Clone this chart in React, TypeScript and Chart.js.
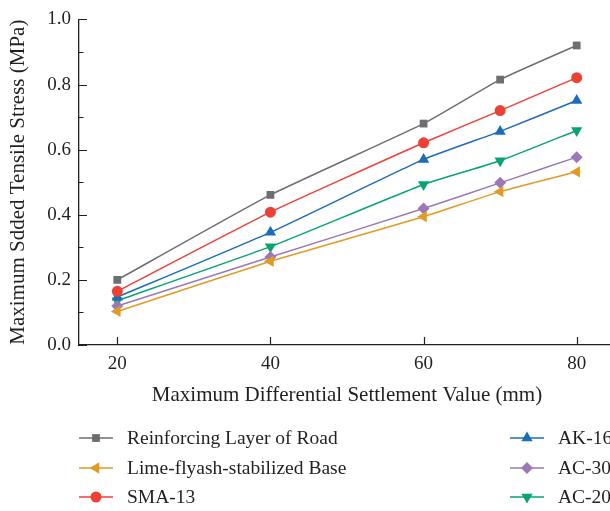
import React, { useEffect, useRef } from "react";
import { Chart, registerables } from "chart.js";
import { drawPoint } from "chart.js/helpers";

Chart.register(...registerables);

// Maximum differential settlement (mm)
const settlement = [20, 40, 60, 70, 80];

// Maximum added tensile stress (MPa) per structural layer
const reinforcingLayer = [0.2, 0.461, 0.68, 0.815, 0.92];
const limeFlyashBase = [0.103, 0.257, 0.394, 0.471, 0.532];
const sma13 = [0.165, 0.408, 0.621, 0.72, 0.821];
const ak16 = [0.147, 0.346, 0.57, 0.656, 0.751];
const ac30 = [0.12, 0.27, 0.419, 0.498, 0.577];
const ac20 = [0.136, 0.302, 0.493, 0.566, 0.659];

const seriesLabels = [
  "Reinforcing Layer of Road",
  "Lime-flyash-stabilized Base",
  "SMA-13",
  "AK-16",
  "AC-30",
  "AC-20",
];

const xTicks = [20, 40, 60, 80];
const yMajorTicks = [0, 0.2, 0.4, 0.6, 0.8, 1.0];
const yMinorTicks = [0.1, 0.3, 0.5, 0.7, 0.9];

const INK = "#231f20";
const FONT = "'Liberation Serif', 'DejaVu Serif', serif";

type Style = { color: string; pointStyle: string; rotation: number; radius: number };

const styles: Style[] = [
  { color: "#6d6e71", pointStyle: "rect", rotation: 0, radius: 5.5 },
  { color: "#e29a24", pointStyle: "triangle", rotation: -90, radius: 6.5 },
  { color: "#ee4136", pointStyle: "circle", rotation: 0, radius: 5.5 },
  { color: "#1c6cb8", pointStyle: "triangle", rotation: 0, radius: 6.5 },
  { color: "#9b79b6", pointStyle: "rectRot", rotation: 0, radius: 6 },
  { color: "#07a56c", pointStyle: "triangle", rotation: 180, radius: 6.5 },
];

const seriesValues = [reinforcingLayer, limeFlyashBase, sma13, ak16, ac30, ac20];

// Inward-facing tick marks on both axes
const innerTicks = {
  id: "innerTicks",
  afterDraw(chart: any) {
    const { ctx, chartArea, scales } = chart;
    const x = scales.x;
    const y = scales.y;
    ctx.save();
    ctx.strokeStyle = INK;
    ctx.lineWidth = 1.2;
    ctx.beginPath();
    for (const v of yMajorTicks) {
      const py = Math.round(y.getPixelForValue(v)) + 0.5;
      ctx.moveTo(chartArea.left, py);
      ctx.lineTo(chartArea.left + 8, py);
    }
    for (const v of yMinorTicks) {
      const py = Math.round(y.getPixelForValue(v)) + 0.5;
      ctx.moveTo(chartArea.left, py);
      ctx.lineTo(chartArea.left + 4.5, py);
    }
    for (const v of xTicks) {
      const px = Math.round(x.getPixelForValue(v)) + 0.5;
      ctx.moveTo(px, chartArea.bottom);
      ctx.lineTo(px, chartArea.bottom - 8);
    }
    ctx.stroke();
    ctx.restore();
  },
};

// Two-column legend below the x-axis title
const columnLegend = {
  id: "columnLegend",
  afterDraw(chart: any) {
    const { ctx, chartArea } = chart;
    const columnsX = [chartArea.left, chartArea.left + 431];
    const rowOffsets = [93, 123, 152];
    ctx.save();
    ctx.font = `19.5px ${FONT}`;
    ctx.textBaseline = "middle";
    ctx.textAlign = "left";
    chart.data.datasets.forEach((ds: any, i: number) => {
      const col = Math.floor(i / 3);
      const row = i % 3;
      const x0 = columnsX[col];
      const yy = chartArea.bottom + rowOffsets[row];
      ctx.strokeStyle = ds.borderColor;
      ctx.lineWidth = 1.5;
      ctx.beginPath();
      ctx.moveTo(x0, yy);
      ctx.lineTo(x0 + 34, yy);
      ctx.stroke();
      ctx.fillStyle = ds.pointBackgroundColor;
      ctx.strokeStyle = ds.pointBorderColor;
      drawPoint(
        ctx,
        {
          pointStyle: ds.pointStyle,
          rotation: ds.pointRotation,
          radius: ds.pointRadius,
          borderWidth: 0,
        },
        x0 + 17,
        yy
      );
      ctx.fillStyle = INK;
      ctx.fillText(ds.label, x0 + 48, yy + 1);
    });
    ctx.restore();
  },
};

export default function App() {
  const canvasRef = useRef<HTMLCanvasElement | null>(null);

  useEffect(() => {
    if (!canvasRef.current) return;
    const chart = new Chart(canvasRef.current, {
      type: "line",
      data: {
        datasets: seriesValues.map((vals, i) => ({
          label: seriesLabels[i],
          data: settlement.map((s, k) => ({ x: s, y: vals[k] })),
          borderColor: styles[i].color,
          backgroundColor: styles[i].color,
          pointBackgroundColor: styles[i].color,
          pointBorderColor: styles[i].color,
          pointBorderWidth: 0,
          pointStyle: styles[i].pointStyle as any,
          pointRotation: styles[i].rotation,
          pointRadius: styles[i].radius,
          borderWidth: 1.5,
          tension: 0.15,
          fill: false,
          clip: false as any,
        })),
      },
      options: {
        responsive: false,
        animation: false,
        layout: { padding: { top: 14, left: 0, right: 25, bottom: 96 } },
        plugins: {
          legend: { display: false },
          tooltip: { enabled: false },
        },
        scales: {
          x: {
            type: "linear",
            min: 15,
            max: 85,
            afterBuildTicks: (scale: any) => {
              scale.ticks = xTicks.map((v) => ({ value: v }));
            },
            afterFit: (scale: any) => {
              scale.height = 70;
            },
            grid: { display: false, drawTicks: false },
            border: { display: true, color: INK, width: 1.3 },
            ticks: {
              color: INK,
              padding: 8,
              font: { family: FONT, size: 19 },
              callback: (v: any) => String(v),
            },
            title: {
              display: true,
              text: "Maximum Differential Settlement Value (mm)",
              color: INK,
              font: { family: FONT, size: 21 },
              padding: { top: 0, bottom: 7 },
            },
          },
          y: {
            type: "linear",
            min: 0,
            max: 1,
            afterBuildTicks: (scale: any) => {
              scale.ticks = yMajorTicks.map((v) => ({ value: v }));
            },
            afterFit: (scale: any) => {
              scale.width = 79;
            },
            grid: { display: false, drawTicks: false },
            border: { display: true, color: INK, width: 1.3 },
            ticks: {
              color: INK,
              padding: 8,
              font: { family: FONT, size: 19 },
              callback: (v: any) => Number(v).toFixed(1),
            },
            title: {
              display: true,
              text: "Maximum Sdded Tensile Stress (MPa)",
              color: INK,
              font: { family: FONT, size: 21 },
              padding: { top: 6, bottom: 0 },
            },
          },
        },
      },
      plugins: [innerTicks, columnLegend],
    });
    return () => chart.destroy();
  }, []);

  return (
    <div
      style={{
        position: "fixed",
        left: 0,
        top: 0,
        width: 610,
        height: 511,
        overflow: "hidden",
        background: "#fff",
      }}
    >
      <canvas ref={canvasRef} width={640} height={511} style={{ display: "block" }} />
    </div>
  );
}
